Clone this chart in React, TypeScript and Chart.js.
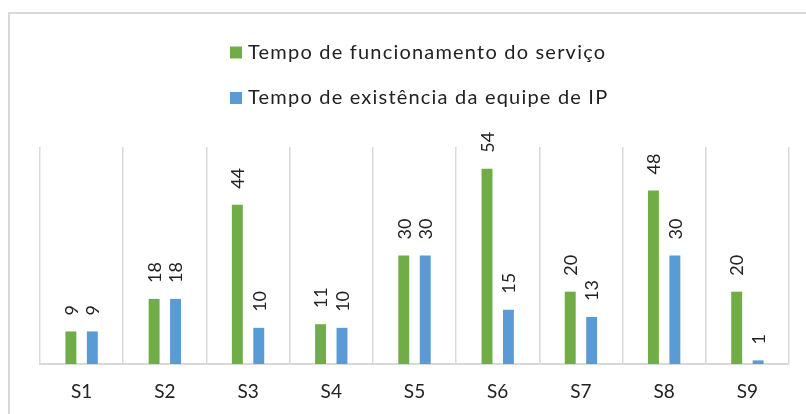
import React, { useEffect, useRef } from "react";
import { Chart, registerables } from "chart.js";

Chart.register(...registerables);

const categories = ["S1", "S2", "S3", "S4", "S5", "S6", "S7", "S8", "S9"];
const tempoFuncionamento = [9, 18, 44, 11, 30, 54, 20, 48, 20];
const tempoEquipe = [9, 18, 10, 10, 30, 15, 13, 30, 1];
const seriesNames = ["Tempo de funcionamento do serviço", "Tempo de existência da equipe de IP"];
const seriesColors = ["#70AD47", "#5B9BD5"];

const FONT = "Lato, 'Open Sans', sans-serif";
const TEXT = "#222222";

const decorPlugin = {
  id: "decor",
  beforeDraw(chart: any) {
    const ctx = chart.ctx;
    ctx.save();
    ctx.fillStyle = "#ffffff";
    ctx.fillRect(0, 0, chart.width, chart.height);
    ctx.strokeStyle = "#D9D9D9";
    ctx.lineWidth = 2;
    ctx.beginPath();
    ctx.moveTo(9, chart.height + 5);
    ctx.lineTo(9, 13);
    ctx.lineTo(chart.width + 5, 13);
    ctx.stroke();
    ctx.restore();
  },
  afterDatasetsDraw(chart: any) {
    const ctx = chart.ctx;
    ctx.save();
    ctx.fillStyle = TEXT;
    ctx.font = `18px ${FONT}`;
    chart.data.datasets.forEach((ds: any, i: number) => {
      const meta = chart.getDatasetMeta(i);
      meta.data.forEach((bar: any, j: number) => {
        ctx.save();
        ctx.translate(bar.x + 1, bar.y - 16);
        ctx.rotate(-Math.PI / 2);
        ctx.textAlign = "left";
        ctx.textBaseline = "middle";
        ctx.fillText(String(ds.data[j]), 0, 0);
        ctx.restore();
      });
    });
    ctx.restore();
  },
  afterDraw(chart: any) {
    const ctx = chart.ctx;
    ctx.save();
    const rows = [52.5, 98];
    chart.data.datasets.forEach((ds: any, i: number) => {
      const cy = rows[i];
      ctx.fillStyle = ds.backgroundColor;
      ctx.fillRect(230, cy - 6, 12, 12);
      ctx.fillStyle = TEXT;
      ctx.font = `20px ${FONT}`;
      (ctx as any).letterSpacing = "1.2px";
      ctx.textAlign = "left";
      ctx.textBaseline = "middle";
      ctx.fillText(ds.label, 248, cy);
    });
    ctx.restore();
  },
};

export default function App() {
  const ref = useRef<HTMLCanvasElement | null>(null);
  useEffect(() => {
    if (!ref.current) return;
    const chart = new Chart(ref.current, {
      type: "bar",
      data: {
        labels: categories,
        datasets: [
          {
            label: seriesNames[0],
            data: tempoFuncionamento,
            backgroundColor: seriesColors[0],
            categoryPercentage: 0.515,
            barPercentage: 0.51,
          },
          {
            label: seriesNames[1],
            data: tempoEquipe,
            backgroundColor: seriesColors[1],
            categoryPercentage: 0.515,
            barPercentage: 0.51,
          },
        ],
      },
      options: {
        responsive: false,
        animation: false,
        devicePixelRatio: 1,
        layout: { padding: { left: 40, right: 17, top: 147, bottom: 0 } },
        plugins: { legend: { display: false }, tooltip: { enabled: false } },
        scales: {
          x: {
            grid: { color: "#D9D9D9", lineWidth: 1.5, drawTicks: false, offset: true },
            border: { color: "#D9D9D9", width: 2 },
            ticks: { color: TEXT, padding: 16, font: { family: FONT, size: 19 } },
            afterFit(scale: any) {
              scale.height = 50;
            },
          },
          y: { display: false, min: 0, max: 60 },
        },
      },
      plugins: [decorPlugin],
    } as any);
    return () => chart.destroy();
  }, []);
  return (
    <div style={{ position: "fixed", left: 0, top: 0, width: 806, height: 414, background: "#fff" }}>
      <canvas ref={ref} width={806} height={414} style={{ width: 806, height: 414, display: "block" }} />
    </div>
  );
}
